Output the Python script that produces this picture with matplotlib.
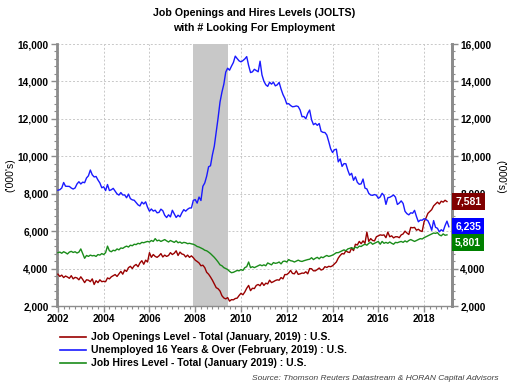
import matplotlib
matplotlib.use("Agg")
import matplotlib.pyplot as plt
from matplotlib.ticker import MultipleLocator, FuncFormatter
from matplotlib.lines import Line2D
import matplotlib.transforms as mtransforms
import numpy as np

plt.rcParams['font.family'] = ['Liberation Sans', 'DejaVu Sans']

# ---------------- DATA ----------------
start_year = 2002
start_month = 1

openings = [
    3700, 3580, 3650, 3520, 3600, 3550, 3480, 3620, 3450, 3530, 3500, 3400,   # 2002
    3560, 3420, 3250, 3400, 3380, 3300, 3450, 3150, 3350, 3250, 3400, 3300,   # 2003
    3320, 3300, 3500, 3450, 3560, 3620, 3680, 3580, 3720, 3850, 3700, 3920,   # 2004
    3850, 4050, 4120, 4000, 4150, 4220, 4100, 4300, 4420, 4230, 4450, 4350,   # 2005
    4850, 4600, 4750, 4650, 4600, 4680, 4800, 4620, 4720, 4650, 4700, 4850,   # 2006
    4750, 4820, 4950, 4700, 4880, 4780, 4750, 4620, 4720, 4600, 4680, 4580,   # 2007
    4450, 4380, 4300, 4150, 4180, 4050, 3800, 3700, 3550, 3380, 3180, 2980,   # 2008
    2920, 2800, 2550, 2430, 2380, 2450, 2260, 2340, 2330, 2400, 2420, 2560,   # 2009
    2680, 2600, 2750, 2950, 3100, 2820, 2950, 2930, 3100, 3150, 3080, 3250,   # 2010
    3100, 3220, 3180, 3380, 3250, 3300, 3360, 3400, 3380, 3520, 3450, 3680,   # 2011
    3680, 3760, 3900, 3740, 3720, 3880, 3690, 3720, 3760, 3750, 3830, 3720,   # 2012
    4000, 3990, 3880, 3880, 3950, 4030, 3920, 3960, 4100, 4060, 4120, 4100,   # 2013
    4150, 4250, 4350, 4560, 4700, 4800, 4780, 4950, 4880, 4860, 5100, 4960,   # 2014
    5300, 5260, 5450, 5330, 5480, 5350, 5950, 5450, 5600, 5500, 5480, 5700,   # 2015
    5750, 5800, 5780, 5800, 5650, 5950, 5700, 5750, 5640, 5700, 5700, 5650,   # 2016
    5800, 5850, 6000, 5900, 5820, 6200, 6180, 6200, 6050, 6100, 6020, 5980,   # 2017
    6500, 6700, 6950, 7050, 7150, 7350, 7450, 7550, 7450, 7600, 7550, 7650,   # 2018
    7581,                                                                     # 2019
]

unemployed = [
    8184, 8215, 8304, 8599, 8399, 8393, 8390, 8304, 8251, 8307, 8520, 8640,   # 2002
    8520, 8618, 8588, 8842, 8957, 9266, 9011, 8896, 8921, 8732, 8576, 8317,   # 2003
    8370, 8167, 8491, 8170, 8212, 8286, 8136, 7990, 7927, 8061, 7932, 7934,   # 2004
    7784, 7980, 7737, 7672, 7651, 7524, 7406, 7345, 7553, 7453, 7566, 7279,   # 2005
    7064, 7184, 7072, 7120, 6980, 7001, 7175, 7091, 6847, 6727, 6872, 6762,   # 2006
    7116, 6927, 6731, 6850, 6766, 6979, 7149, 7067, 7170, 7237, 7240, 7645,   # 2007
    7685, 7497, 7822, 7637, 8395, 8575, 8937, 9438, 9494, 10074, 10538, 11286,  # 2008
    12058, 12898, 13426, 13853, 14499, 14707, 14601, 14814, 15009, 15352, 15219, 15098,  # 2009
    15046, 15113, 15202, 15325, 14849, 14474, 14512, 14648, 14579, 14516, 15081, 14348,  # 2010
    14013, 13820, 13737, 13957, 13855, 13962, 13763, 13818, 13948, 13594, 13302, 13093,  # 2011
    12797, 12813, 12713, 12646, 12660, 12692, 12656, 12471, 12115, 12124, 12005, 12298,  # 2012
    12471, 11950, 11689, 11760, 11654, 11751, 11335, 11279, 11270, 11136, 10787, 10404,  # 2013
    10202, 10349, 10380, 9702, 9859, 9460, 9608, 9599, 9262, 8990, 9090, 8717,   # 2014
    8903, 8610, 8504, 8526, 8785, 8299, 8256, 8018, 7929, 7913, 7955, 7921,   # 2015
    7753, 7826, 8022, 7904, 7430, 7787, 7808, 7865, 7934, 7814, 7426, 7502,   # 2016
    7617, 7480, 7060, 6934, 6870, 6980, 6957, 7110, 6781, 6501, 6589, 6584,   # 2017
    6667, 6623, 6559, 6344, 6047, 6564, 6204, 6153, 5964, 6075, 5998, 6294,   # 2018
    6535, 6235,                                                               # 2019
]

hires = [
    4850, 4880, 4820, 4900, 4850, 4780, 4880, 4920, 4860, 4900, 4830, 4880,   # 2002
    5050, 4800, 4550, 4700, 4650, 4720, 4680, 4700, 4650, 4750, 4720, 4800,   # 2003
    4750, 4850, 5200, 4950, 4900, 4980, 4950, 5050, 5000, 5100, 5080, 5150,   # 2004
    5200, 5150, 5250, 5220, 5300, 5280, 5350, 5320, 5400, 5380, 5420, 5450,   # 2005
    5420, 5500, 5450, 5600, 5480, 5520, 5450, 5500, 5550, 5480, 5420, 5500,   # 2006
    5450, 5400, 5480, 5380, 5420, 5350, 5400, 5380, 5330, 5350, 5320, 5300,   # 2007
    5250, 5180, 5150, 5100, 5050, 4980, 4950, 4880, 4800, 4700, 4600, 4480,   # 2008
    4350, 4200, 4150, 4050, 4000, 3950, 3850, 3780, 3800, 3850, 3900, 3880,   # 2009
    3950, 3900, 4050, 4100, 4350, 4050, 4100, 4050, 4100, 4150, 4200, 4150,   # 2010
    4200, 4150, 4300, 4250, 4200, 4320, 4280, 4300, 4350, 4250, 4380, 4400,   # 2011
    4350, 4480, 4420, 4400, 4350, 4400, 4450, 4400, 4380, 4420, 4450, 4480,   # 2012
    4500, 4580, 4480, 4550, 4600, 4520, 4620, 4580, 4650, 4700, 4650, 4680,   # 2013
    4720, 4780, 4850, 4850, 4900, 4950, 5000, 4950, 5050, 5080, 5120, 5050,   # 2014
    5150, 5100, 5200, 5180, 5250, 5300, 5250, 5350, 5400, 5300, 5350, 5400,   # 2015
    5450, 5300, 5450, 5350, 5400, 5350, 5420, 5350, 5300, 5400, 5380, 5420,   # 2016
    5450, 5400, 5480, 5420, 5500, 5550, 5500, 5450, 5500, 5550, 5600, 5580,   # 2017
    5650, 5700, 5750, 5800, 5850, 5900, 5880, 5920, 5800, 5750, 5850, 5780,   # 2018
    5801,                                                                     # 2019
]

recession = (2007 + 11 / 12, 2009 + 5 / 12)   # Dec 2007 - Jun 2009

series_labels = [
    "Job Openings Level - Total (January, 2019) : U.S.",
    "Unemployed 16 Years & Over (February, 2019) : U.S.",
    "Job Hires Level - Total (January 2019) : U.S.",
]
badge_labels = ["7,581", "6,235", "5,801"]

title = "Job Openings and Hires Levels (JOLTS)\nwith # Looking For Employment"
source = "Source: Thomson Reuters Datastream & HORAN Capital Advisors"
y_unit = "('000's)"

# ---------------- STYLE ----------------
line_colors = ["#990000", "#1a1aff", "#1a8c1a"]
badge_colors = ["#800000", "#0000ff", "#008000"]
axis_gray = "#8c8c8c"

W, H = 507, 385
fig = plt.figure(figsize=(W / 100, H / 100), dpi=100)
ax = fig.add_axes([57 / W, 1 - 306 / H, (452 - 57) / W, (306 - 44) / H])


def dates(n):
    return start_year + (start_month - 1) / 12 + np.arange(n) / 12.0


all_series = [openings, unemployed, hires]
ax.axvspan(recession[0], recession[1], color="#c8c8c8", zorder=1, lw=0)
for s, c in zip(all_series, line_colors):
    ax.plot(dates(len(s)), s, color=c, lw=1.0, zorder=3)

ax.set_xlim(2001.96, 2019.22)
ax.set_ylim(2000, 16000)

fmt = FuncFormatter(lambda v, p: f"{int(v):,}")
ax.xaxis.set_major_locator(MultipleLocator(2))
ax.xaxis.set_minor_locator(MultipleLocator(0.25))
ax.yaxis.set_major_locator(MultipleLocator(2000))
ax.yaxis.set_minor_locator(MultipleLocator(400))
ax.yaxis.set_major_formatter(fmt)
ax.xaxis.set_major_formatter(FuncFormatter(lambda v, p: f"{int(round(v))}"))

ax.grid(True, which="major", color="#c8c8c8", linestyle=(0, (2, 2)), lw=0.7, zorder=0)

ax.spines["top"].set_visible(False)
ax.spines["left"].set_color(axis_gray)
ax.spines["left"].set_linewidth(2.0)
ax.spines["right"].set_color(axis_gray)
ax.spines["right"].set_linewidth(2.0)
ax.spines["bottom"].set_color(axis_gray)
ax.spines["bottom"].set_linewidth(1.0)

ax.tick_params(axis="both", which="major", length=4, width=1, color=axis_gray, labelsize=7.3, pad=2)
ax.tick_params(axis="both", which="minor", length=2.5, width=0.8, color=axis_gray)
for lab in ax.get_xticklabels() + ax.get_yticklabels():
    lab.set_fontweight("bold")

ax2 = ax.twinx()
ax2.set_ylim(ax.get_ylim())
ax2.yaxis.set_major_locator(MultipleLocator(2000))
ax2.yaxis.set_minor_locator(MultipleLocator(400))
ax2.yaxis.set_major_formatter(fmt)
for sp in ["top", "left", "bottom"]:
    ax2.spines[sp].set_visible(False)
ax2.spines["right"].set_color(axis_gray)
ax2.spines["right"].set_linewidth(2.0)
ax2.tick_params(axis="y", which="major", length=4, width=1, color=axis_gray, labelsize=7.3, pad=2)
ax2.tick_params(axis="y", which="minor", length=2.5, width=0.8, color=axis_gray)

# axis unit labels
fig.text(10 / W, 1 - 175 / H, y_unit, rotation=90, ha="center", va="center", fontsize=7.5)
fig.text(500 / W, 1 - 177 / H, y_unit, rotation=270, ha="center", va="center", fontsize=7.5)

# badges with last values (simple overlap avoidance)
last_vals = [s[-1] for s in all_series]
order = np.argsort(last_vals)[::-1]
min_gap = 830
placed = []
badge_y = {}
for i in order:
    y = last_vals[i]
    if placed and placed[-1] - y < min_gap:
        y = placed[-1] - min_gap
    placed.append(y)
    badge_y[i] = y

fig.canvas.draw()
# right tick labels fully hidden behind a badge are not shown (as in the reference)
for lab, val in zip(ax2.get_yticklabels(), ax2.get_yticks()):
    lab.set_fontweight("bold")
    if any(abs(val - by) < 400 for by in badge_y.values()):
        lab.set_visible(False)

trans = mtransforms.blended_transform_factory(ax.transAxes, ax.transData)
for i in range(3):
    ax2.text(1.008, badge_y[i], badge_labels[i], transform=trans, ha="left", va="center",
             color="white", fontsize=7.5, fontweight="bold", zorder=10, clip_on=False,
             bbox=dict(boxstyle="square,pad=0.32", facecolor=badge_colors[i], edgecolor="none"))

# title
fig.text(254 / W, 1 - 20.5 / H, title, ha="center", va="center", fontsize=7.7, fontweight="bold",
         linespacing=1.55)

# legend
rows = [337, 350, 363]
for lab, c, yy in zip(series_labels, line_colors, rows):
    fig.add_artist(Line2D([60 / W, 86 / W], [1 - yy / H, 1 - yy / H], color=c, lw=1.2,
                          transform=fig.transFigure))
    fig.text(91 / W, 1 - yy / H, lab, ha="left", va="center", fontsize=7.5, fontweight="bold")

fig.text(499 / W, 1 - 379 / H, source, ha="right", va="center", fontsize=6,
         style="italic", color="#404040")

fig.savefig("out.png", dpi=100)
